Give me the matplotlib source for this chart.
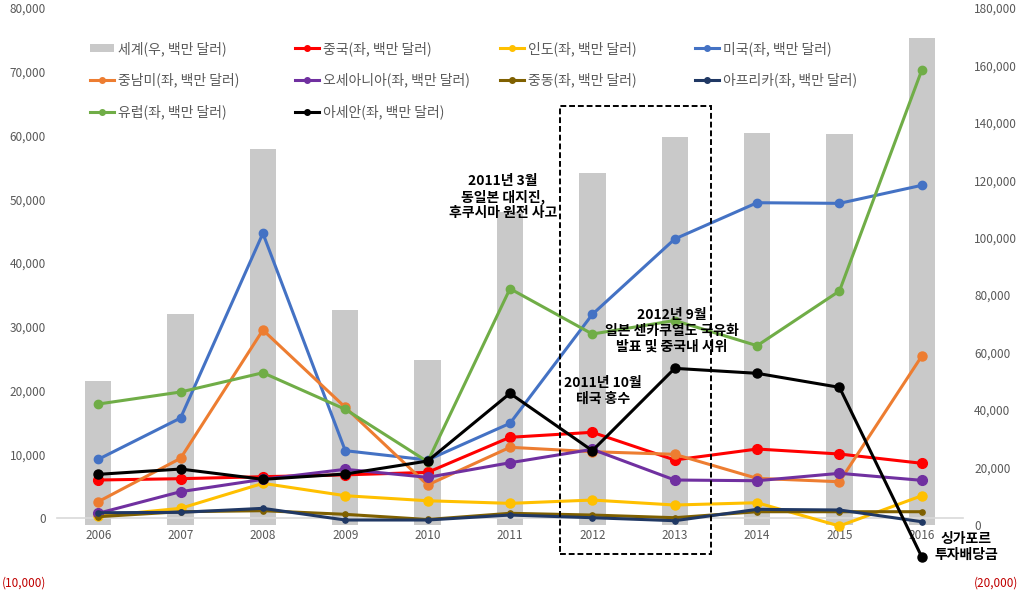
import matplotlib
matplotlib.use('Agg')
import matplotlib.pyplot as plt
from matplotlib.patches import Rectangle, Patch
from matplotlib.lines import Line2D

plt.rcParams['font.family'] = ['Noto Sans CJK KR', 'DejaVu Sans']

years = ['2006', '2007', '2008', '2009', '2010', '2011', '2012', '2013', '2014', '2015', '2016']

world = [50165, 73483, 130801, 74650, 57223, 108808, 122355, 135049, 136347, 136249, 169640]
china = [5990, 6200, 6510, 6800, 7190, 12690, 13470, 9130, 10850, 10070, 8610]
india = [300, 1550, 5470, 3530, 2740, 2330, 2850, 2070, 2430, -1220, 3530]
usa = [9230, 15710, 44670, 10590, 9130, 14880, 31970, 43780, 49470, 49370, 52200]
latam = [2590, 9390, 29510, 17390, 5210, 11120, 10430, 10020, 6250, 5720, 25430]
oceania = [770, 4160, 6100, 7670, 6410, 8700, 10800, 5990, 5880, 7040, 5940]
mideast = [240, 1020, 1180, 610, -200, 770, 500, 80, 1020, 1020, 1020]
africa = [860, 920, 1550, -280, -280, 500, 80, -390, 1390, 1290, -550]
europe = [17900, 19790, 22810, 17080, 8860, 35990, 28880, 31000, 27050, 35630, 70280]
asean = [6880, 7710, 6100, 6930, 8970, 19580, 10590, 23500, 22720, 20520, -6080]

left_ticks = [-10000, 0, 10000, 20000, 30000, 40000, 50000, 60000, 70000, 80000]
right_ticks = [-20000, 0, 20000, 40000, 60000, 80000, 100000, 120000, 140000, 160000, 180000]

series = [
    ('중국(좌, 백만 달러)', china, '#FF0000', 7.0),
    ('인도(좌, 백만 달러)', india, '#FFC000', 6.5),
    ('미국(좌, 백만 달러)', usa, '#4472C4', 6.0),
    ('중남미(좌, 백만 달러)', latam, '#ED7D31', 6.5),
    ('오세아니아(좌, 백만 달러)', oceania, '#7030A0', 7.0),
    ('중동(좌, 백만 달러)', mideast, '#7F6000', 3.8),
    ('아프리카(좌, 백만 달러)', africa, '#203864', 3.8),
    ('유럽(좌, 백만 달러)', europe, '#70AD47', 6.0),
    ('아세안(좌, 백만 달러)', asean, '#000000', 6.5),
]

W, H = 1024, 600
fig = plt.figure(figsize=(W / 100, H / 100), dpi=100)
AX_L, AX_R, AX_T, AX_B = 57, 963, 8, 582
ax = fig.add_axes([AX_L / W, 1 - AX_B / H, (AX_R - AX_L) / W, (AX_B - AX_T) / H])
ax2 = ax.twinx()

x = list(range(len(years)))

TICK_GRAY = '#595959'
NEG_RED = '#C00000'


def fmt(v):
    return '({:,})'.format(-v) if v < 0 else '{:,}'.format(v)


# bars on right axis
bars = ax2.bar(x, world, width=0.32, color='#C9C9C9', zorder=1)
ax2.set_ylim(-20000, 180000)
ax2.set_yticks(right_ticks)
ax2.set_yticklabels([fmt(v) for v in right_ticks])
for lab, v in zip(ax2.get_yticklabels(), right_ticks):
    lab.set_color(NEG_RED if v < 0 else TICK_GRAY)
ax2.tick_params(axis='y', length=0, pad=8, labelsize=8.5)

# lines on left axis (drawn above bars)
ax.set_zorder(ax2.get_zorder() + 1)
ax.patch.set_visible(False)
handles = {}
for name, vals, col, ms in series:
    ln, = ax.plot(x, vals, color=col, lw=2.2, marker='o', ms=ms,
                  markeredgecolor=col, markerfacecolor=col, label=name, zorder=3)
    handles[name] = ln

ax.set_xlim(-0.5, len(years) - 0.5)
ax.set_ylim(-10000, 80000)
ax.set_yticks(left_ticks)
ax.set_yticklabels([fmt(v) for v in left_ticks])
for lab, v in zip(ax.get_yticklabels(), left_ticks):
    lab.set_color(NEG_RED if v < 0 else TICK_GRAY)
ax.tick_params(axis='y', length=0, pad=8, labelsize=8.5)
ax.set_xticks(x)
ax.set_xticklabels(years)
ax.tick_params(axis='x', length=0, pad=8, labelsize=8.5, colors=TICK_GRAY)

for a in (ax, ax2):
    for s in a.spines.values():
        s.set_visible(False)
ax.spines['bottom'].set_visible(True)
ax.spines['bottom'].set_position(('data', 0))
ax.spines['bottom'].set_color('#D9D9D9')
ax.spines['bottom'].set_linewidth(1.2)
ax.spines['bottom'].set_zorder(0.5)


def axf(px, py):
    return ((px - AX_L) / (AX_R - AX_L), (AX_B - py) / (AX_B - AX_T))


# dashed rectangle
x0, y0 = axf(560, 554)
x1, y1 = axf(711, 106)
ax.add_patch(Rectangle((x0, y0), x1 - x0, y1 - y0, transform=ax.transAxes,
                       fill=False, edgecolor='black', lw=1.4, ls=(0, (3, 1.5)), zorder=4))

# annotations
tkw = dict(transform=ax.transAxes, ha='center', va='center', fontsize=10,
           fontweight='bold', color='black', zorder=6, linespacing=1.15)
ax.text(*axf(503, 197), '2011년 3월\n동일본 대지진,\n후쿠시마 원전 사고', **tkw)
ax.text(*axf(603, 391), '2011년 10월\n태국 홍수', **tkw)
ax.text(*axf(672, 331), '2012년 9월\n일본 센카쿠열도 국유화\n발표 및 중국내 시위', **tkw)
ax.text(*axf(966, 547), '싱가포르\n투자배당금', **tkw)

# legend: 4 columns built as separate legends
legend_cols = [
    [bars, handles['중남미(좌, 백만 달러)'], handles['유럽(좌, 백만 달러)']],
    [handles['중국(좌, 백만 달러)'], handles['오세아니아(좌, 백만 달러)'], handles['아세안(좌, 백만 달러)']],
    [handles['인도(좌, 백만 달러)'], handles['중동(좌, 백만 달러)']],
    [handles['미국(좌, 백만 달러)'], handles['아프리카(좌, 백만 달러)']],
]
legend_labels = [
    ['세계(우, 백만 달러)', '중남미(좌, 백만 달러)', '유럽(좌, 백만 달러)'],
    ['중국(좌, 백만 달러)', '오세아니아(좌, 백만 달러)', '아세안(좌, 백만 달러)'],
    ['인도(좌, 백만 달러)', '중동(좌, 백만 달러)'],
    ['미국(좌, 백만 달러)', '아프리카(좌, 백만 달러)'],
]
col_x = [90, 295, 500, 695]


def small_line(h):
    c = h.get_color()
    return Line2D([], [], color=c, lw=2.2, marker='o', ms=4, markeredgecolor=c, markerfacecolor=c)


for cx, hs, ls_ in zip(col_x, legend_cols, legend_labels):
    hh = []
    for h in hs:
        if isinstance(h, Line2D):
            hh.append(small_line(h))
        else:
            hh.append(Patch(facecolor='#C9C9C9', edgecolor='none'))
    lg = fig.legend(hh, ls_, loc='upper left', bbox_to_anchor=(cx / W, 1 - 41 / H),
                    bbox_transform=fig.transFigure, frameon=False, fontsize=10,
                    borderpad=0, borderaxespad=0, handlelength=1.75, handleheight=0.5,
                    handletextpad=0.25, labelspacing=1.22)
    for t in lg.get_texts():
        t.set_color(TICK_GRAY)

fig.savefig('out.png', dpi=100)
